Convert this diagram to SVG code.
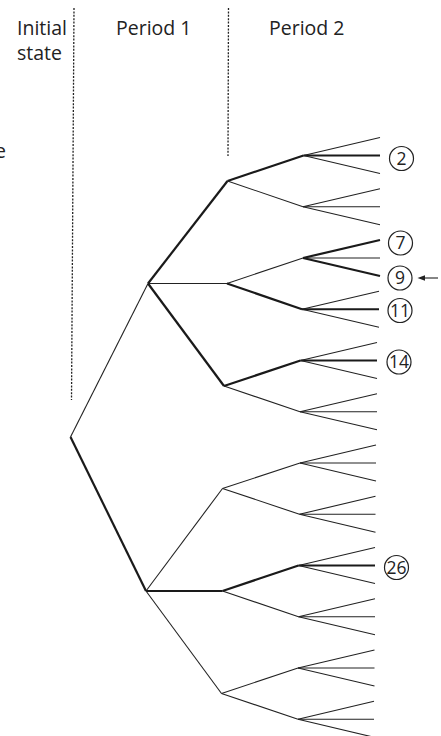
<svg xmlns="http://www.w3.org/2000/svg" width="441" height="736" viewBox="0 0 441 736">
<style>
.hd{font-family:"Open Sans","Liberation Sans",sans-serif;font-size:19.5px;fill:#222}
.lb{font-family:"Open Sans","Liberation Sans",sans-serif;font-size:17.5px;fill:#222;text-anchor:middle}
.dot{stroke:#222;stroke-width:1.3;stroke-dasharray:2 1.4;fill:none}
.t{stroke:#222;stroke-width:1.1;fill:none}
.k{stroke:#1a1a1a;stroke-width:2.2;fill:none}
.c{fill:#fff;stroke:#222;stroke-width:1.2}
.ah{fill:#222}
</style>
<rect width="441" height="736" fill="#fff"/>
<g id="headers">
<text class="hd" x="17" y="35">Initial</text>
<text class="hd" x="17" y="60">state</text>
<text class="hd" x="116" y="35">Period 1</text>
<text class="hd" x="269" y="35">Period 2</text>
<text class="hd" x="-5" y="158">e</text>
</g>
<g id="dividers">
<line class="dot" x1="74" y1="8" x2="71.5" y2="400"/>
<line class="dot" x1="228.5" y1="8" x2="228" y2="156"/>
</g>
<g id="connectors">
<line class="t" x1="70.5" y1="437" x2="148" y2="283.5"/>
<line class="k" x1="70.5" y1="437" x2="146" y2="591"/>
<line class="k" x1="148" y1="283.5" x2="227.5" y2="181"/>
<line class="t" x1="148" y1="283.5" x2="227" y2="283.5"/>
<line class="k" x1="148" y1="283.5" x2="224" y2="386"/>
<line class="t" x1="146" y1="591" x2="222.5" y2="488.5"/>
<line class="k" x1="146" y1="591" x2="222.5" y2="591"/>
<line class="t" x1="146" y1="591" x2="221.5" y2="693.5"/>
<line class="k" x1="227.5" y1="181" x2="303.5" y2="155.5"/>
<line class="t" x1="227.5" y1="181" x2="303" y2="206.75"/>
<line class="t" x1="227" y1="283.5" x2="303" y2="258"/>
<line class="k" x1="227" y1="283.5" x2="302" y2="309.25"/>
<line class="k" x1="224" y1="386" x2="300.5" y2="360.5"/>
<line class="t" x1="224" y1="386" x2="300" y2="411.75"/>
<line class="t" x1="222.5" y1="488.5" x2="300" y2="463"/>
<line class="t" x1="222.5" y1="488.5" x2="299.5" y2="514.25"/>
<line class="k" x1="222.5" y1="591" x2="298.5" y2="565.5"/>
<line class="t" x1="222.5" y1="591" x2="298.5" y2="616.75"/>
<line class="t" x1="221.5" y1="693.5" x2="298" y2="668"/>
<line class="t" x1="221.5" y1="693.5" x2="298" y2="719.25"/>
<line class="t" x1="303.5" y1="155.5" x2="380" y2="137.5"/>
<line class="k" x1="303.5" y1="155.5" x2="380" y2="155.5"/>
<line class="t" x1="303.5" y1="155.5" x2="380" y2="173.5"/>
<line class="t" x1="303" y1="206.75" x2="380" y2="188.75"/>
<line class="t" x1="303" y1="206.75" x2="380" y2="206.75"/>
<line class="t" x1="303" y1="206.75" x2="380" y2="224.75"/>
<line class="k" x1="303" y1="258" x2="380" y2="240"/>
<line class="t" x1="303" y1="258" x2="380" y2="258"/>
<line class="k" x1="303" y1="258" x2="380" y2="276"/>
<line class="t" x1="302" y1="309.25" x2="379" y2="291.25"/>
<line class="k" x1="302" y1="309.25" x2="379" y2="309.25"/>
<line class="t" x1="302" y1="309.25" x2="379" y2="327.25"/>
<line class="t" x1="300.5" y1="360.5" x2="377" y2="342.5"/>
<line class="k" x1="300.5" y1="360.5" x2="377" y2="360.5"/>
<line class="t" x1="300.5" y1="360.5" x2="377" y2="378.5"/>
<line class="t" x1="300" y1="411.75" x2="377" y2="393.75"/>
<line class="t" x1="300" y1="411.75" x2="377" y2="411.75"/>
<line class="t" x1="300" y1="411.75" x2="377" y2="429.75"/>
<line class="t" x1="300" y1="463" x2="376" y2="445"/>
<line class="t" x1="300" y1="463" x2="376" y2="463"/>
<line class="t" x1="300" y1="463" x2="376" y2="481"/>
<line class="t" x1="299.5" y1="514.25" x2="375.5" y2="496.25"/>
<line class="t" x1="299.5" y1="514.25" x2="375.5" y2="514.25"/>
<line class="t" x1="299.5" y1="514.25" x2="375.5" y2="532.25"/>
<line class="t" x1="298.5" y1="565.5" x2="375" y2="547.5"/>
<line class="k" x1="298.5" y1="565.5" x2="375" y2="565.5"/>
<line class="t" x1="298.5" y1="565.5" x2="375" y2="583.5"/>
<line class="t" x1="298.5" y1="616.75" x2="375" y2="598.75"/>
<line class="t" x1="298.5" y1="616.75" x2="375" y2="616.75"/>
<line class="t" x1="298.5" y1="616.75" x2="375" y2="634.75"/>
<line class="t" x1="298" y1="668" x2="374.5" y2="650"/>
<line class="t" x1="298" y1="668" x2="374.5" y2="668"/>
<line class="t" x1="298" y1="668" x2="374.5" y2="686"/>
<line class="t" x1="298" y1="719.25" x2="374" y2="701.25"/>
<line class="t" x1="298" y1="719.25" x2="374" y2="719.25"/>
<line class="t" x1="298" y1="719.25" x2="374" y2="737.25"/>
<line class="t" x1="438" y1="278" x2="422" y2="278"/>
<path class="ah" d="M417.5,278 L425,275.2 L425,280.8 Z"/>
</g>
<g id="leaf-2"><circle class="c" cx="401.5" cy="158.5" r="12"/><text class="lb" x="401.5" y="164.5">2</text></g>
<g id="leaf-7"><circle class="c" cx="400.5" cy="243" r="12"/><text class="lb" x="400.5" y="249">7</text></g>
<g id="leaf-9"><circle class="c" cx="400" cy="278" r="12"/><text class="lb" x="400" y="284">9</text></g>
<g id="leaf-11"><circle class="c" cx="400" cy="310.5" r="12"/><text class="lb" x="400" y="316.5">11</text></g>
<g id="leaf-14"><circle class="c" cx="399" cy="362" r="12"/><text class="lb" x="399" y="368">14</text></g>
<g id="leaf-26"><circle class="c" cx="396.5" cy="567.5" r="12"/><text class="lb" x="396.5" y="573.5">26</text></g>
</svg>
